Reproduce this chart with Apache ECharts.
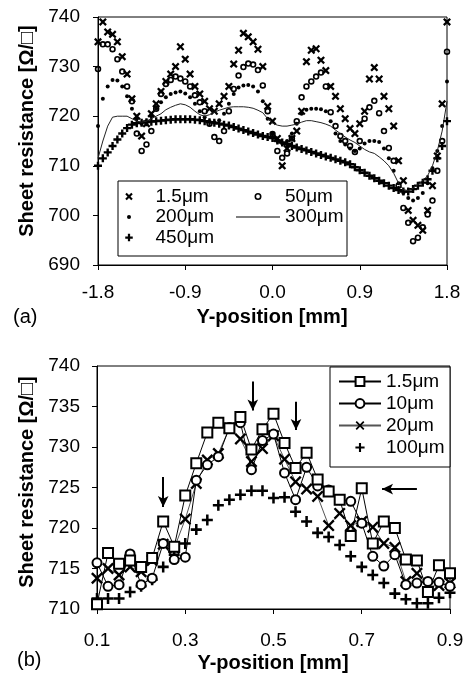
<!DOCTYPE html>
<html><head><meta charset="utf-8">
<script src="https://cdn.jsdelivr.net/npm/echarts@6/dist/echarts.min.js"></script>
<style>html,body{margin:0;padding:0;background:#fff}#c{width:469px;height:677px}</style>
</head><body><div id="c"></div>
<script>
// ---------- Panel (a) data ----------
const xA = [-1.8,-1.75,-1.7,-1.65,-1.6,-1.55,-1.5,-1.45,-1.4,-1.35,
  -1.3,-1.25,-1.2,-1.15,-1.1,-1.05,-1.0,-0.95,-0.9,-0.85,
  -0.8,-0.75,-0.7,-0.65,-0.6,-0.55,-0.5,-0.45,-0.4,-0.35,
  -0.3,-0.25,-0.2,-0.15,-0.1,-0.05,0,0.05,0.1,0.15,
  0.2,0.25,0.3,0.35,0.4,0.45,0.5,0.55,0.6,0.65,
  0.7,0.75,0.8,0.85,0.9,0.95,1.0,1.05,1.1,1.15,
  1.2,1.25,1.3,1.35,1.4,1.45,1.5,1.55,1.6,1.65,
  1.7,1.75,1.8];
const a_1p5 = [735,739,737,736.5,735,732,728.5,723.5,720,716,
  718.5,720.5,722.5,725,727,728.5,730,734,731.5,728.5,
  726,724.5,723,721.5,721,722.5,724,726,730.5,733.3,
  736.7,736,735,733.5,730,722,719,715.5,710,713.5,
  715.5,717,721,731,733.3,733.6,731.3,729.2,726,724,
  721.5,719.5,717.5,716.5,718.5,721,727.5,729.8,727.5,724,
  721.5,718,711,707,701,699,698,697,701,706,
  712,722.5,739];
const a_50 = [729.5,734.5,734.5,733.5,731.5,729,726,723,716.5,713,
  714.3,717,721.5,724.5,726.5,727.3,728,727.6,727,726,
  724.2,722.8,721,718.5,715.8,715,717,721,725.5,728.2,
  729.9,730.6,730.4,729.3,726.2,721,716.4,713,711.6,712.5,
  715.5,719,723.8,726,727,728,728.8,726,720.8,718,
  716,715,714,712.8,715,719.5,721.8,723.1,720.6,717,
  713.6,711,706,701.5,698.5,694.8,695.5,697.6,700.2,703,
  709,715,733];
const a_200 = [718,723.5,726,727.3,727.2,726,724,721.5,719.5,718.5,
  719,720,721.5,722.8,723.8,724.5,724.8,725,724.6,723.8,
  722.5,721,719.8,719,718.8,719.2,720.5,722.5,724.5,725.8,
  726.2,726.3,726,725,723,719.5,716.5,715,714.5,715,
  716.5,718.5,720.5,721.3,721.5,721.5,721.4,721,719,716.5,
  715,714.3,713.5,713,713.5,714.5,715,715,714.8,713.5,
  711.5,709,706.5,704.5,703.5,703,703.5,704.5,706.5,709.5,
  713,718,727];
const a_300 = [711.5,715,718,719.8,720,720,720,719.5,719,718.8,
  719,719.5,720,720.5,721.3,721.8,722.2,722.5,722.3,721.8,
  721,720.3,720,720.3,720.8,721.2,721.5,721.8,721.9,721.9,
  721.9,721.8,721.6,721.2,720.7,719.5,718.6,718.2,718,718,
  718.2,718.4,718.8,719.1,719.1,718.9,718.7,718.4,718,717.2,
  716.5,715.8,715.2,714.7,714,713.3,712.8,712.5,711.8,711,
  710,708.5,706.5,705.2,705,705.5,706.2,707,708,710,
  713,717,723];
const a_450 = [710,711.5,712.7,714,715.3,716.5,717.6,718.3,718.6,718.7,
  718.8,718.9,719,719.1,719.2,719.3,719.4,719.4,719.4,719.4,
  719.3,719.2,719,718.8,718.7,718.5,718.3,718.1,717.8,717.5,
  717.2,716.9,716.6,716.3,716,715.8,715.6,715.1,714.7,714.4,
  714,713.7,713.4,713.1,712.8,712.5,712.2,711.9,711.6,711.3,
  711,710.7,710.3,709.7,709.1,708.6,708,707.5,707,706.5,
  706,705.5,705.1,704.8,704.8,705.3,706,706.6,707.3,709,
  711.5,714,719];

// ---------- Panel (b) data ----------
const xB = [0.1,0.125,0.15,0.175,0.2,0.225,0.25,0.275,0.3,0.325,
  0.35,0.375,0.4,0.425,0.45,0.475,0.5,0.525,0.55,0.575,
  0.6,0.625,0.65,0.675,0.7,0.725,0.75,0.775,0.8,0.825,
  0.85,0.875,0.9];
const b_1p5 = [710.6,716.9,715.6,716,715.2,716.3,720.8,717.7,724,728,
  731.8,733,732.3,733.7,729.7,732.2,734.1,730.5,727.4,729.3,
  726,724.5,723.5,719,724.9,718.1,720.8,720,716.1,716,
  712.1,715.4,714.4];
const b_10 = [715.7,712.8,713,716.8,713,713.8,718.1,716.1,716.4,725.9,
  727.8,728.8,732.4,733,727.2,730.8,731.6,726.8,723.5,727.5,
  725.2,724.7,723.5,723.3,720.6,716.5,715.3,716.7,713,713.2,
  713.4,713.3,712.8];
const b_20 = [713.8,715,714.2,715.2,714.6,716,718,717.5,721.1,725.5,
  728.4,729.2,732.3,731,728.2,729.8,731.4,728.5,725.7,724.8,
  723.9,720.3,721.8,720.3,720.8,720.1,718.1,717.6,713.4,714.4,
  712.8,712.9,713.2];
const b_100 = [711.3,711.3,711.3,712.1,712.8,713.6,715.2,716.7,718.1,719.8,
  721,722.8,723.5,724.1,724.6,724.6,723.7,723.8,722,720.8,
  719.4,718.9,717.9,716.5,715.2,714.2,713.2,711.9,711.2,710.7,
  710.7,711.4,712];
// arrows in panel (b): start -> end (data coordinates)
const arrowX0 = [0.25, 0.453, 0.551, 0.825];
const arrowY0 = [726.3, 738.1, 735.6, 724.8];
const arrowX1 = [0.25, 0.453, 0.551, 0.746];
const arrowY1 = [722.6, 734.5, 732.1, 724.8];

// ---------- styling ----------
const FONT = 'Liberation Sans, Arial, Helvetica, sans-serif';
const P_X = 'path://M0,2L2,0L5,3L8,0L10,2L7,5L10,8L8,10L5,7L2,10L0,8L3,5Z';
const P_PLUS = 'path://M3.5,0H6.5V3.5H10V6.5H6.5V10H3.5V6.5H0V3.5H3.5Z';
const P_RING = 'path://M0,5a5,5 0 1,1 10,0a5,5 0 1,1 -10,0ZM2.5,5a2.5,2.5 0 1,0 5,0a2.5,2.5 0 1,0 -5,0Z';
const P_X2 = 'path://M0,1.4L1.4,0L5,3.6L8.6,0L10,1.4L6.4,5L10,8.6L8.6,10L5,6.4L1.4,10L0,8.6L3.6,5Z';
const P_PLUS2 = 'path://M3.85,0H6.15V3.85H10V6.15H6.15V10H3.85V6.15H0V3.85H3.85Z';
// legend icons (with invisible margins to shrink the glyph)
const L_X = 'path://M-3,-3M13,13M0,2L2,0L5,3L8,0L10,2L7,5L10,8L8,10L5,7L2,10L0,8L3,5Z';
const L_DOT = 'path://M0,0M12,12M4,6a2,2 0 1,0 4,0a2,2 0 1,0 -4,0Z';
const L_PLUS = 'path://M-3,-3M13,13M3.5,0H6.5V3.5H10V6.5H6.5V10H3.5V6.5H0V3.5H3.5Z';
const L_RING = 'path://M0,0M12,12M2.5,6a3.5,3.5 0 1,1 7,0a3.5,3.5 0 1,1 -7,0ZM4.1,6a1.9,1.9 0 1,0 3.8,0a1.9,1.9 0 1,0 -3.8,0Z';
const L_LINE = 'path://M0,0H40V1H0Z';
const L_PLUSB = 'path://M-1,-1M11,11M3.85,0H6.15V3.85H10V6.15H6.15V10H3.85V6.15H0V3.85H3.85Z';

function pairs(xs, ys) { return xs.map((x, i) => [x, ys[i]]); }
const fmt1 = v => (Math.abs(v) < 1e-9 ? '0.0' : v.toFixed(1));
const fmtInt = v => String(Math.round(v));

function axisBase(extra) {
  return Object.assign({
    type: 'value',
    axisLine: { show: true, onZero: false, lineStyle: { color: '#000', width: 1 } },
    axisTick: { show: true, inside: false, length: 5, lineStyle: { color: '#000', width: 1 } },
    splitLine: { show: false },
    axisLabel: { color: '#000', fontSize: 19, fontFamily: FONT }
  }, extra);
}

const legendText = { fontSize: 19, fontFamily: FONT, color: '#000' };
function txt(text, x, y, font, rot, align) {
  return {
    type: 'text', x: x, y: y, rotation: rot || 0, z: 10,
    style: { text: text, font: font, fill: '#000',
      textAlign: align || 'center', align: align || 'center',
      textVerticalAlign: 'middle', verticalAlign: 'middle' }
  };
}
const BLACK = { color: '#000', opacity: 1 };

const option = {
  animation: false,
  backgroundColor: '#fff',
  grid: [
    { left: 98, top: 17, width: 349, height: 248, show: true, borderColor: '#000', borderWidth: 1, backgroundColor: 'transparent' },
    { left: 97, top: 366, width: 353, height: 243, show: true, borderColor: '#000', borderWidth: 1, backgroundColor: 'transparent' }
  ],
  xAxis: [
    axisBase({ gridIndex: 0, min: -1.8, max: 1.8, interval: 0.9,
      axisLabel: { color: '#000', fontSize: 19, fontFamily: FONT, margin: 18, formatter: fmt1 } }),
    axisBase({ gridIndex: 1, min: 0.1, max: 0.9, interval: 0.2,
      axisLabel: { color: '#000', fontSize: 19, fontFamily: FONT, margin: 22, formatter: fmt1 } })
  ],
  yAxis: [
    axisBase({ gridIndex: 0, min: 690, max: 740, interval: 10,
      axisLabel: { color: '#000', fontSize: 19, fontFamily: FONT, margin: 18, formatter: fmtInt } }),
    axisBase({ gridIndex: 1, min: 710, max: 740, interval: 5,
      axisLabel: { color: '#000', fontSize: 19, fontFamily: FONT, margin: 17, formatter: fmtInt } })
  ],
  legend: [
    { orient: 'vertical', left: 123, top: 187, padding: 0, itemWidth: 43, itemHeight: 12, itemGap: 1.5,
      selectedMode: false, z: 20, textStyle: legendText, formatter: n => n.slice(2),
      data: [{ name: 'a 1.5μm', icon: L_X }, { name: 'a 200μm', icon: L_DOT }, { name: 'a 450μm', icon: L_PLUS }] },
    { orient: 'vertical', left: 236, top: 187, padding: 0, itemWidth: 44, itemHeight: 12, itemGap: 1.5,
      selectedMode: false, z: 20, textStyle: legendText, formatter: n => n.slice(2),
      data: [{ name: 'a 50μm', icon: L_RING }, { name: 'a 300μm', icon: L_LINE }] },
    { orient: 'vertical', left: 338, top: 372, padding: 0, itemWidth: 42, itemHeight: 11, itemGap: 3,
      selectedMode: false, z: 20, textStyle: legendText, formatter: n => n.slice(2),
      data: ['b 1.5μm', 'b 10μm', 'b 20μm', { name: 'b 100μm', icon: L_PLUSB }] }
  ],
  graphic: [
    { type: 'rect', z: 3, shape: { x: 118, y: 181, width: 229, height: 75 }, style: { fill: '#fff', stroke: '#000', lineWidth: 1 } },
    { type: 'rect', z: 3, shape: { x: 330, y: 367, width: 120, height: 100 }, style: { fill: '#fff', stroke: '#000', lineWidth: 1 } },
    txt('Sheet resistance [Ω/□]', 27, 131, 'bold 20px ' + FONT, Math.PI / 2),
    txt('Y-position [mm]', 272, 317, 'bold 20px ' + FONT),
    txt('(a)', 13, 317, '20px ' + FONT, 0, 'left'),
    txt('Sheet resistance [Ω/□]', 27, 482, 'bold 20px ' + FONT, Math.PI / 2),
    txt('Y-position [mm]', 273, 663, 'bold 20px ' + FONT),
    txt('(b)', 17, 660, '20px ' + FONT, 0, 'left')
  ],
  series: [
    { name: 'a 300μm', type: 'line', xAxisIndex: 0, yAxisIndex: 0, data: pairs(xA, a_300),
      symbol: 'none', lineStyle: { color: '#222', width: 1 }, itemStyle: BLACK },
    { name: 'a 450μm', type: 'scatter', xAxisIndex: 0, yAxisIndex: 0, data: pairs(xA, a_450),
      symbol: P_PLUS, symbolSize: 8, itemStyle: BLACK },
    { name: 'a 200μm', type: 'scatter', xAxisIndex: 0, yAxisIndex: 0, data: pairs(xA, a_200),
      symbol: 'circle', symbolSize: 4, itemStyle: BLACK },
    { name: 'a 50μm', type: 'scatter', xAxisIndex: 0, yAxisIndex: 0, data: pairs(xA, a_50),
      symbol: P_RING, symbolSize: 6.5, itemStyle: BLACK },
    { name: 'a 1.5μm', type: 'scatter', xAxisIndex: 0, yAxisIndex: 0, data: pairs(xA, a_1p5),
      symbol: P_X, symbolSize: 8, itemStyle: BLACK },

    { name: 'b 20μm', type: 'line', xAxisIndex: 1, yAxisIndex: 1, data: pairs(xB, b_20),
      symbol: P_X2, symbolSize: 12, showAllSymbol: true,
      lineStyle: { color: '#555', width: 1 }, itemStyle: BLACK },
    { name: 'b 10μm', type: 'line', xAxisIndex: 1, yAxisIndex: 1, data: pairs(xB, b_10),
      symbol: 'emptyCircle', symbolSize: 9, showAllSymbol: true,
      lineStyle: { color: '#000', width: 1 }, itemStyle: { color: '#000', opacity: 1, borderWidth: 1.5 } },
    { name: 'b 1.5μm', type: 'line', xAxisIndex: 1, yAxisIndex: 1, data: pairs(xB, b_1p5),
      symbol: 'emptyRect', symbolSize: 10, showAllSymbol: true,
      lineStyle: { color: '#000', width: 1 }, itemStyle: { color: '#000', opacity: 1, borderWidth: 1.5 } },
    { name: 'b 100μm', type: 'scatter', xAxisIndex: 1, yAxisIndex: 1, data: pairs(xB, b_100),
      symbol: P_PLUS2, symbolSize: 11, itemStyle: BLACK,
      markLine: {
        silent: true, symbol: ['none', 'arrow'], symbolSize: [8, 11], animation: false,
        lineStyle: { color: '#000', width: 2, type: 'solid', opacity: 1 }, label: { show: false },
        emphasis: { disabled: true },
        data: arrowX0.map((x, i) => [{ coord: [x, arrowY0[i]] }, { coord: [arrowX1[i], arrowY1[i]] }])
      } }
  ]
};

const chart = echarts.init(document.getElementById('c'), null, { renderer: 'canvas' });
chart.setOption(option);
</script>
</body></html>
